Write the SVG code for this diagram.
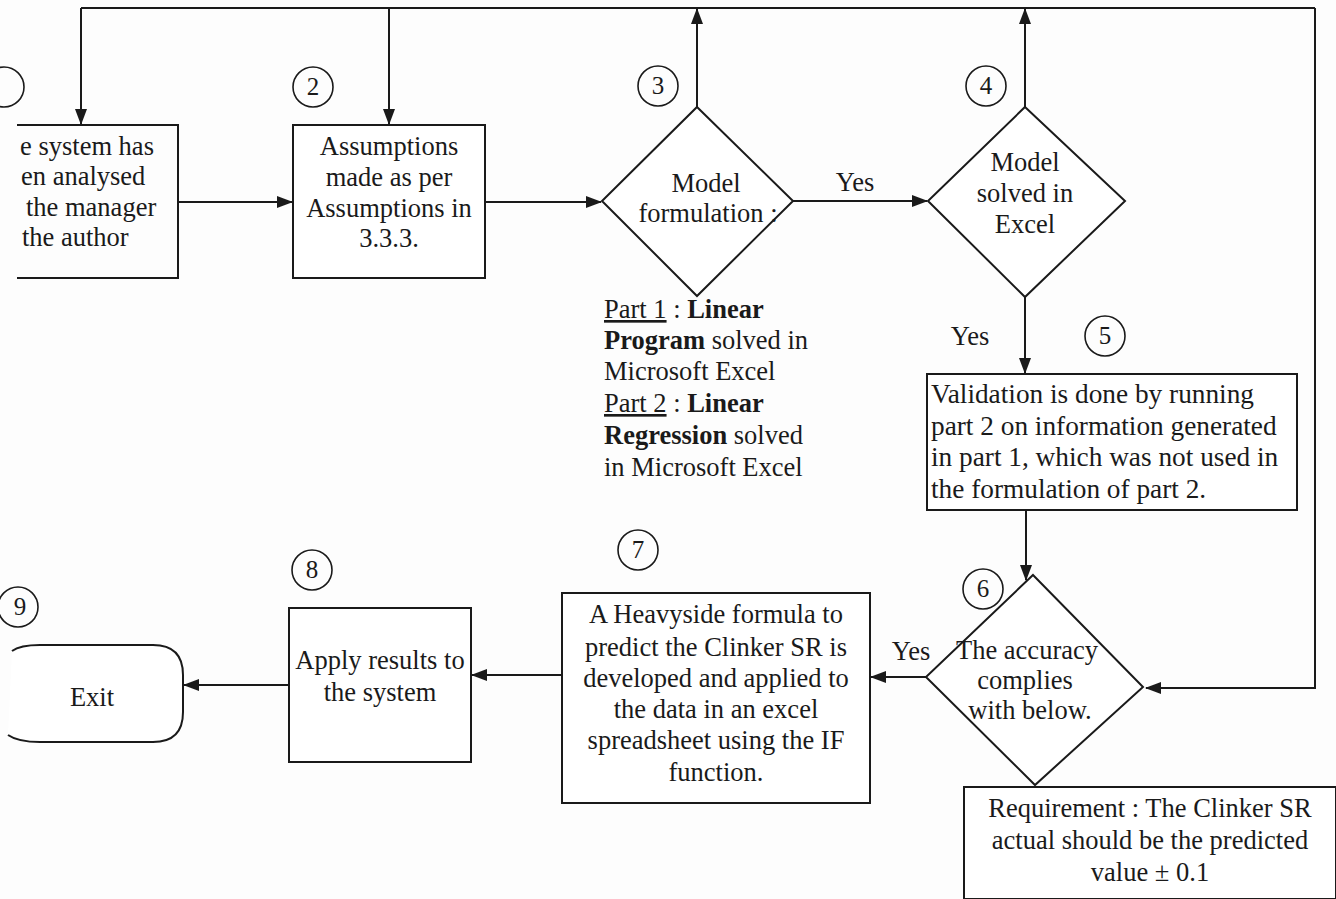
<svg xmlns="http://www.w3.org/2000/svg" width="1336" height="899" viewBox="0 0 1336 899">
<style>
.shape{fill:none;stroke:#1a1a1a;stroke-width:2}
.box{fill:#fff;stroke:#1a1a1a;stroke-width:2}
.num{fill:none;stroke:#1a1a1a;stroke-width:1.6}
text{font-family:"Liberation Serif","Times New Roman",serif;font-size:26.5px;fill:#1a1a1a}
.c{text-anchor:middle}
.n{font-size:25px;text-anchor:middle}
.b{font-weight:bold}
.u{text-decoration:underline}
.w{font-size:27.3px}
.conn line,.conn polyline{fill:none;stroke:#1a1a1a;stroke-width:2}
</style>
<defs>
<marker id="ah" markerUnits="userSpaceOnUse" markerWidth="16" markerHeight="12" refX="15" refY="6" orient="auto">
<path d="M0,0 L16,6 L0,12 Z" fill="#1a1a1a"/>
</marker>
</defs>
<rect width="1336" height="899" fill="#fdfdfd"/>

<g class="conn" id="connectors">
<line x1="81" y1="8" x2="1315" y2="8"/>
<line x1="81" y1="8" x2="81" y2="124" marker-end="url(#ah)"/>
<line x1="389" y1="8" x2="389" y2="124" marker-end="url(#ah)"/>
<line x1="697" y1="107" x2="697" y2="9" marker-end="url(#ah)"/>
<line x1="1025" y1="107" x2="1025" y2="9" marker-end="url(#ah)"/>
<polyline points="1315,8 1315,688 1146,688" marker-end="url(#ah)"/>
<line x1="178" y1="202" x2="292" y2="202" marker-end="url(#ah)"/>
<line x1="485" y1="202" x2="601" y2="202" marker-end="url(#ah)"/>
<line x1="793" y1="201" x2="927" y2="201" marker-end="url(#ah)"/>
<line x1="1025" y1="297" x2="1025" y2="373" marker-end="url(#ah)"/>
<line x1="1026" y1="510" x2="1026" y2="580" marker-end="url(#ah)"/>
<line x1="926" y1="677" x2="871" y2="677" marker-end="url(#ah)"/>
<line x1="562" y1="675" x2="472" y2="675" marker-end="url(#ah)"/>
<line x1="289" y1="685" x2="184" y2="685" marker-end="url(#ah)"/>
<text x="855" y="191" class="c">Yes</text>
<text x="970" y="345" class="c">Yes</text>
<text x="911" y="660" class="c">Yes</text>
</g>

<g id="node1">
<polyline class="shape" points="17,125 178,125 178,278 17,278"/>
<circle class="num" cx="4" cy="87" r="20"/>
<text x="20" y="155">e system has</text>
<text x="21" y="185">en analysed</text>
<text x="26" y="216">the manager</text>
<text x="22" y="246">the author</text>
</g>

<g id="node2">
<rect class="box" x="293" y="125" width="192" height="153"/>
<circle class="num" cx="313" cy="87" r="20"/>
<text x="313" y="95" class="n">2</text>
<text x="389" y="155" class="c">Assumptions</text>
<text x="389" y="186" class="c">made as per</text>
<text x="389" y="217" class="c">Assumptions in</text>
<text x="389" y="247" class="c">3.3.3.</text>
</g>

<g id="node3">
<polygon class="box" points="697,107 793,201 697,296 602,201"/>
<circle class="num" cx="658" cy="86" r="20"/>
<text x="658" y="94" class="n">3</text>
<text x="706" y="192" class="c">Model</text>
<text x="708" y="222" class="c">formulation :</text>
<text x="604" y="318"><tspan class="u">Part 1</tspan> : <tspan class="b">Linear</tspan></text>
<text x="604" y="349"><tspan class="b">Program</tspan> solved in</text>
<text x="604" y="380">Microsoft Excel</text>
<text x="604" y="412"><tspan class="u">Part 2</tspan> : <tspan class="b">Linear</tspan></text>
<text x="604" y="444"><tspan class="b">Regression</tspan> solved</text>
<text x="604" y="476">in Microsoft Excel</text>
</g>

<g id="node4">
<polygon class="box" points="1025,107 1125,201 1025,297 928,201"/>
<circle class="num" cx="986" cy="86" r="20"/>
<text x="986" y="94" class="n">4</text>
<text x="1025" y="171" class="c">Model</text>
<text x="1025" y="202" class="c">solved in</text>
<text x="1025" y="233" class="c">Excel</text>
</g>

<g id="node5">
<rect class="box" x="927" y="374" width="370" height="136"/>
<circle class="num" cx="1105" cy="336" r="20"/>
<text x="1105" y="344" class="n">5</text>
<text x="931" y="403" class="w">Validation is done by running</text>
<text x="931" y="435" class="w">part 2 on information generated</text>
<text x="931" y="466" class="w">in part 1, which was not used in</text>
<text x="931" y="498" class="w">the formulation of part 2.</text>
</g>

<g id="node6">
<polygon class="box" points="1033,575 1143,687 1035,785 926,677"/>
<circle class="num" cx="983" cy="589" r="20"/>
<text x="983" y="597" class="n">6</text>
<text x="1027" y="659" class="c">The accuracy</text>
<text x="1025" y="689" class="c">complies</text>
<text x="1030" y="719" class="c">with below.</text>
</g>

<g id="requirement">
<rect class="box" x="964" y="787" width="372" height="112"/>
<text x="1150" y="817" class="c">Requirement : The Clinker SR</text>
<text x="1150" y="849" class="c">actual should be the predicted</text>
<text x="1150" y="881" class="c">value ± 0.1</text>
</g>

<g id="node7">
<rect class="box" x="562" y="593" width="308" height="210"/>
<circle class="num" cx="638" cy="550" r="20"/>
<text x="638" y="558" class="n">7</text>
<text x="716" y="623" class="c">A Heavyside formula to</text>
<text x="716" y="656" class="c">predict the Clinker SR is</text>
<text x="716" y="687" class="c">developed and applied to</text>
<text x="716" y="718" class="c">the data in an excel</text>
<text x="716" y="749" class="c">spreadsheet using the IF</text>
<text x="716" y="781" class="c">function.</text>
</g>

<g id="node8">
<rect class="box" x="289" y="608" width="182" height="154"/>
<circle class="num" cx="312" cy="570" r="20"/>
<text x="312" y="578" class="n">8</text>
<text x="380" y="669" class="c">Apply results to</text>
<text x="380" y="701" class="c">the system</text>
</g>

<g id="node9">
<path class="box" d="M12,651 Q20,645 40,645 L153,645 Q183,645 183,675 L183,712 Q183,742 153,742 L40,742 Q18,742 8,735"/>
<circle class="num" cx="18" cy="607" r="20"/>
<text x="20" y="615" class="n">9</text>
<text x="92" y="706" class="c">Exit</text>
</g>
</svg>
